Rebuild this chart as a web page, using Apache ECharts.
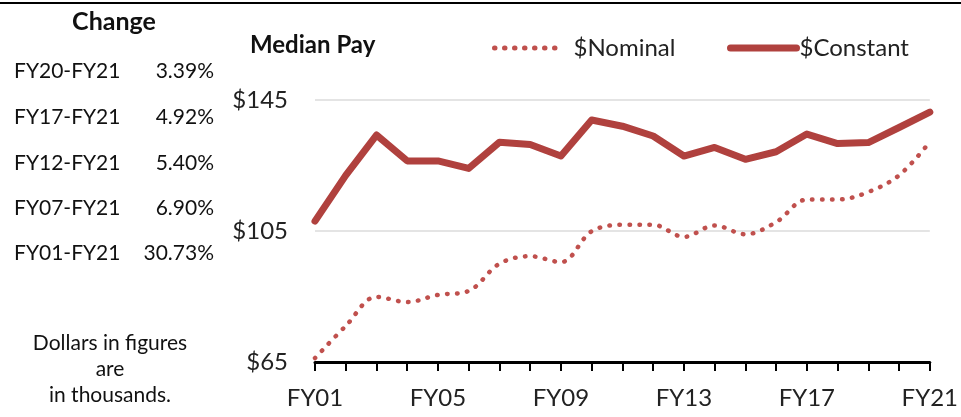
<!DOCTYPE html>
<html><head><meta charset="utf-8">
<script src="https://cdn.jsdelivr.net/npm/echarts@6/dist/echarts.min.js"></script>
<style>html,body{margin:0;padding:0;background:#fff}#c{width:961px;height:417px}</style>
</head><body><div id="c"></div>
<script>
const categories = ['FY01','FY02','FY03','FY04','FY05','FY06','FY07','FY08','FY09','FY10','FY11','FY12','FY13','FY14','FY15','FY16','FY17','FY18','FY19','FY20','FY21'];
const nominal = [66.2,76.0,84.9,83.3,85.5,86.7,95.0,97.3,95.5,104.9,106.9,106.9,103.2,106.7,104.0,107.7,114.6,114.6,116.9,122.0,132.2];
const constant = [108.0,122.0,134.3,126.4,126.4,124.1,132.1,131.4,127.9,138.9,137.0,134.0,127.9,130.5,126.9,129.2,134.6,131.7,132.0,136.6,141.3];
const yTicks = [65,105,145];
const changeLabels = ['FY20-FY21','FY17-FY21','FY12-FY21','FY07-FY21','FY01-FY21'];
const changeValues = ['3.39%','4.92%','5.40%','6.90%','30.73%'];
const noteLines = ['Dollars in figures','are','in thousands.'];

const chart = echarts.init(document.getElementById('c'), null, {renderer:'canvas'});
const leftFont = 'Lato';
const axFont = 'Lato';
const rowY = [71,117,163,208,253];
const graphics = [
  {type:'line', shape:{x1:0,y1:3,x2:961,y2:3}, style:{stroke:'#000',lineWidth:2}},
  {type:'text', x:114, y:22, style:{text:'Change', font:'bold 25px '+leftFont, fill:'#111', textAlign:'center', textVerticalAlign:'middle'}},
  {type:'text', x:250, y:45, style:{text:'Median Pay', font:'bold 24px '+axFont, fill:'#111', textAlign:'left', textVerticalAlign:'middle'}}
];
changeLabels.forEach((t,i)=>{
  graphics.push({type:'text', x:14, y:rowY[i], style:{text:t, font:'21px '+leftFont, fill:'#111', textAlign:'left', textVerticalAlign:'middle'}});
  graphics.push({type:'text', x:214, y:rowY[i], style:{text:changeValues[i], font:'21px '+leftFont, fill:'#111', textAlign:'right', textVerticalAlign:'middle'}});
});
const noteY = [343,369,395];
noteLines.forEach((t,i)=>{
  graphics.push({type:'text', x:110, y:noteY[i], style:{text:t, font:'21px '+leftFont, fill:'#111', textAlign:'center', textVerticalAlign:'middle'}});
});

chart.setOption({
  animation:false,
  grid:{left:315, right:28, top:100, bottom:55, containLabel:false},
  legend:[
    {data:['$Nominal'], left:487, top:31, itemWidth:68, itemHeight:14, itemGap:6,
     itemStyle:{opacity:0}, lineStyle:{width:5, type:[0.5,9.5], cap:'round', color:'#c0504d'},
     textStyle:{fontFamily:axFont, fontSize:24, color:'#222', padding:[0,0,0,6]}},
    {data:['$Constant'], left:722, top:31, itemWidth:66, itemHeight:14, itemGap:4,
     itemStyle:{opacity:0}, lineStyle:{width:7, cap:'round', color:'#b0413e'},
     textStyle:{fontFamily:axFont, fontSize:24, color:'#222', padding:[0,0,0,-2]}}
  ],
  xAxis:{type:'category', data:categories, boundaryGap:false,
    axisLine:{lineStyle:{color:'#000', width:3}},
    axisTick:{show:true, interval:0, length:9, lineStyle:{color:'#000', width:2}},
    axisLabel:{interval:3, margin:24, fontFamily:axFont, fontSize:24, color:'#222'},
    splitLine:{show:false}},
  yAxis:{type:'value', min:yTicks[0], max:yTicks[yTicks.length-1], interval:40,
    axisLine:{show:false}, axisTick:{show:false},
    axisLabel:{margin:27, fontFamily:axFont, fontSize:24, color:'#222', formatter:v=>'$'+v},
    splitLine:{show:true, lineStyle:{color:'#e4e4e4', width:2}}},
  graphic:graphics,
  series:[
    {name:'$Nominal', type:'line', data:nominal, smooth:0.35, symbol:'none',
     lineStyle:{color:'#c0504d', width:4.5, type:[0.5,9.5], cap:'round'}, itemStyle:{color:'#c0504d'}},
    {name:'$Constant', type:'line', data:constant, symbol:'none',
     lineStyle:{color:'#b0413e', width:7, cap:'round', join:'round'}, itemStyle:{color:'#b0413e'}}
  ]
});
</script></body></html>
